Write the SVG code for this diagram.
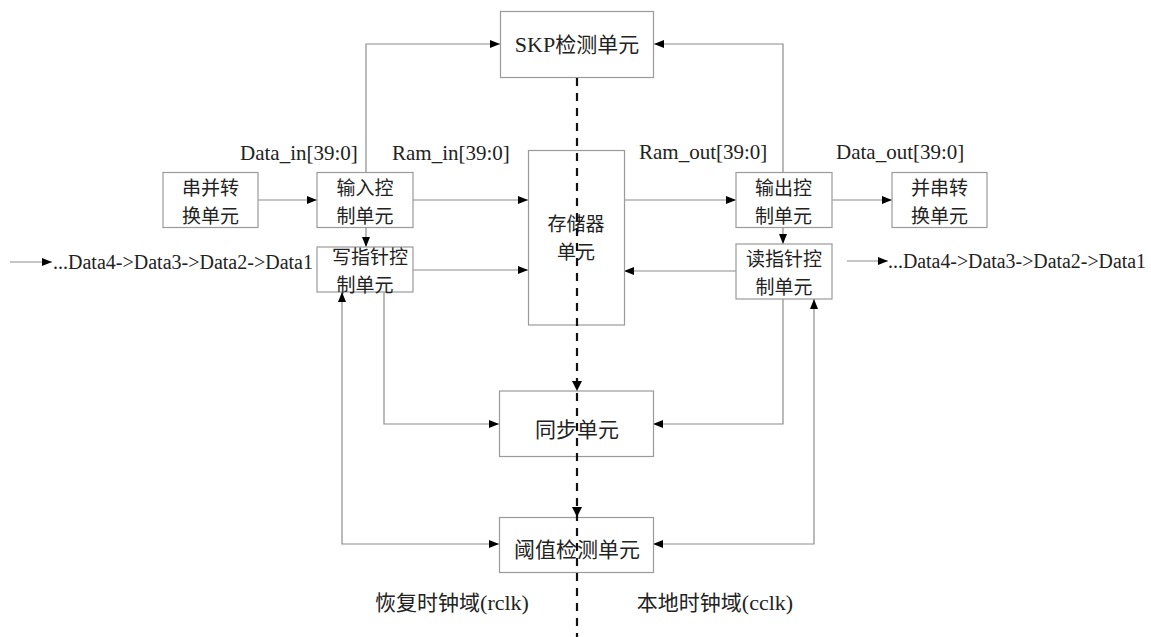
<svg xmlns="http://www.w3.org/2000/svg" width="1151" height="637" viewBox="0 0 1151 637">
<style>
.box{fill:#fff;stroke:#9a9a9a;stroke-width:1.2}
.cn{font-family:"Noto Sans CJK SC","Noto Sans CJK JP",sans-serif;font-size:21px;fill:#222;text-anchor:middle}
.cn2{font-family:"Noto Sans CJK SC","Noto Sans CJK JP",sans-serif;font-size:19px;fill:#222;text-anchor:middle}
.lb{font-family:"Liberation Serif","Noto Sans CJK SC",serif;font-size:21px;fill:#222}
.ch{font-family:"Liberation Serif",serif;font-size:20px;fill:#222}
.ln{fill:none;stroke:#8c8c8c;stroke-width:1.2}
.dash{fill:none;stroke:#111;stroke-width:2.2;stroke-dasharray:8 7}
</style>
<defs>
<marker id="ah" viewBox="0 0 10 10" refX="10" refY="5" markerWidth="10" markerHeight="10" markerUnits="userSpaceOnUse" orient="auto"><path d="M0,1 L10,5 L0,9 z" fill="#000"/></marker>
<marker id="as" viewBox="0 0 10 10" refX="0" refY="5" markerWidth="10" markerHeight="10" markerUnits="userSpaceOnUse" orient="auto"><path d="M10,1 L0,5 L10,9 z" fill="#000"/></marker>
</defs>
<g id="connectors">
<polyline class="ln" points="366,172 366,44 500,44" marker-end="url(#ah)"/>
<polyline class="ln" points="783,172 783,44 654,44" marker-end="url(#ah)"/>
<line class="ln" x1="258" y1="200" x2="317" y2="200" marker-end="url(#ah)"/>
<line class="ln" x1="366" y1="227" x2="366" y2="247" marker-end="url(#ah)"/>
<line class="ln" x1="413" y1="200" x2="528" y2="200" marker-end="url(#ah)"/>
<line class="ln" x1="413" y1="270" x2="528" y2="270" marker-end="url(#ah)"/>
<line class="ln" x1="624" y1="200" x2="736" y2="200" marker-end="url(#ah)"/>
<line class="ln" x1="832" y1="200" x2="892" y2="200" marker-end="url(#ah)"/>
<line class="ln" x1="783" y1="227" x2="783" y2="244" marker-end="url(#ah)"/>
<line class="ln" x1="736" y1="271" x2="624" y2="271" marker-end="url(#ah)"/>
<polyline class="ln" points="384,292 384,424 499,424" marker-end="url(#ah)"/>
<polyline class="ln" points="783,299 783,424 653,424" marker-end="url(#ah)"/>
<polyline class="ln" points="342,292 342,544 499,544" marker-start="url(#as)" marker-end="url(#ah)"/>
<polyline class="ln" points="814,299 814,544 653,544" marker-start="url(#as)" marker-end="url(#ah)"/>
<line class="ln" x1="10" y1="262" x2="52" y2="262" marker-end="url(#ah)"/>
<line class="ln" x1="847" y1="261" x2="888" y2="261" marker-end="url(#ah)"/>
</g>
<g id="skp"><rect class="box" x="500.5" y="11.5" width="153" height="66"/><text class="cn" x="577" y="52"><tspan font-family="Liberation Serif" font-size="22">SKP</tspan>检测单元</text></g>
<g id="sp1"><rect class="box" x="163" y="172.5" width="95" height="55"/><text class="cn2" x="210.5" y="195">串并转<tspan x="210.5" dy="28">换单元</tspan></text></g>
<g id="inctrl"><rect class="box" x="317" y="172.5" width="96" height="55"/><text class="cn2" x="365" y="195">输入控<tspan x="365" dy="28">制单元</tspan></text></g>
<g id="wptr"><rect class="box" x="317" y="247" width="96" height="45"/><text class="cn2" x="370" y="264">写指针控<tspan x="365" dy="28">制单元</tspan></text></g>
<g id="mem"><rect class="box" x="528.5" y="150.5" width="96" height="174.5"/><text class="cn2" x="576" y="231">存储器<tspan x="576" dy="28">单元</tspan></text></g>
<g id="outctrl"><rect class="box" x="736" y="172.5" width="96" height="55"/><text class="cn2" x="783.5" y="195">输出控<tspan x="783.5" dy="28">制单元</tspan></text></g>
<g id="ps1"><rect class="box" x="892" y="172.5" width="95" height="55"/><text class="cn2" x="939.5" y="195">并串转<tspan x="939.5" dy="28">换单元</tspan></text></g>
<g id="rptr"><rect class="box" x="736" y="244" width="96" height="55"/><text class="cn2" x="784" y="266">读指针控<tspan x="784" dy="28">制单元</tspan></text></g>
<g id="sync"><rect class="box" x="499.5" y="391" width="154" height="65.5"/><text class="cn" x="577" y="437">同步单元</text></g>
<g id="thr"><rect class="box" x="499.5" y="517.5" width="154" height="55"/><text class="cn" x="577" y="557">阈值检测单元</text></g>
<g id="domain">
<line class="dash" x1="577" y1="78" x2="577" y2="637"/>
<path d="M572,381 L582,381 L577,391 z" fill="#000"/>
<path d="M572,507 L582,507 L577,517 z" fill="#000"/>
</g>
<g id="labels">
<text class="lb" x="240" y="160">Data_in[39:0]</text>
<text class="lb" x="392" y="160">Ram_in[39:0]</text>
<text class="lb" x="639" y="159">Ram_out[39:0]</text>
<text class="lb" x="836" y="159">Data_out[39:0]</text>
<text class="ch" x="53" y="269" textLength="260" lengthAdjust="spacingAndGlyphs">...Data4->Data3->Data2->Data1</text>
<text class="ch" x="888" y="268" textLength="258" lengthAdjust="spacingAndGlyphs">...Data4->Data3->Data2->Data1</text>
<text class="cn" x="452" y="610">恢复时钟域<tspan font-family="Liberation Serif" font-size="22">(rclk)</tspan></text>
<text class="cn" x="715" y="610">本地时钟域<tspan font-family="Liberation Serif" font-size="22">(cclk)</tspan></text>
</g>
</svg>
